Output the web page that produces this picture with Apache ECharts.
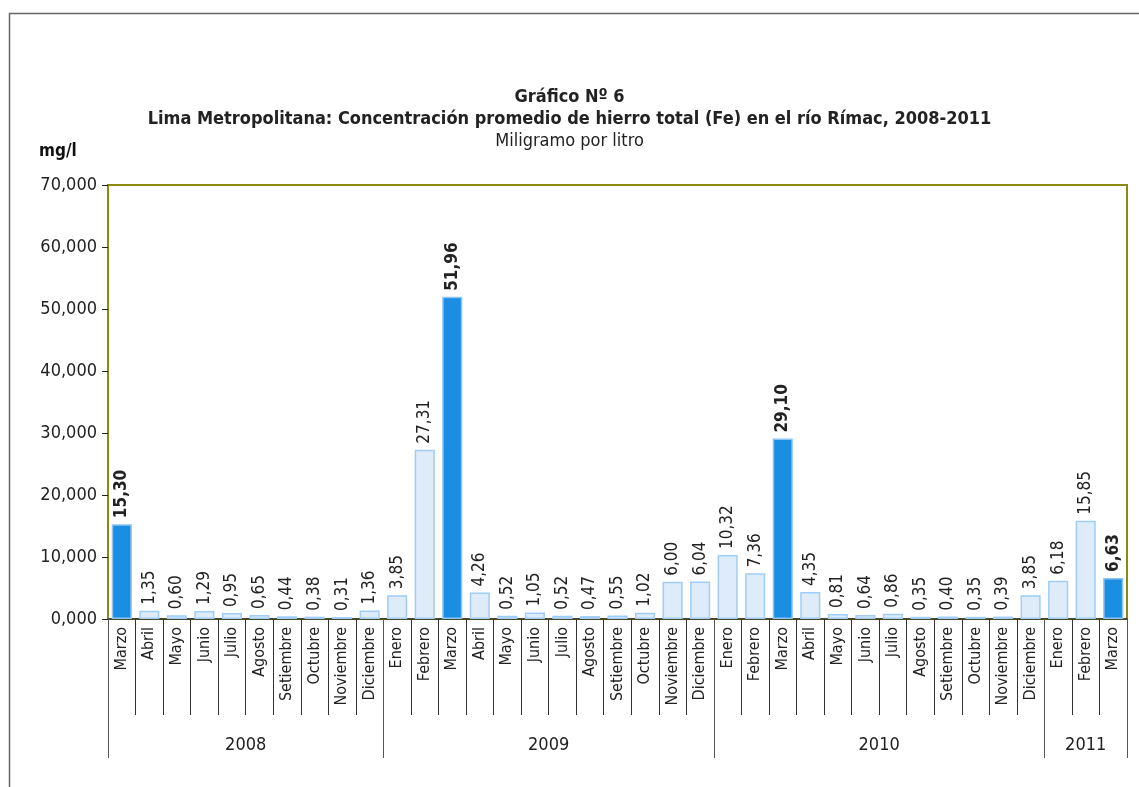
<!DOCTYPE html>
<html>
<head>
<meta charset="utf-8">
<script src="https://cdn.jsdelivr.net/npm/echarts@6/dist/echarts.min.js"></script>
<style>
html,body{margin:0;padding:0;background:#fff;}
#chart{width:1139px;height:787px;}
</style>
</head>
<body>
<div id="chart"></div>
<script>
var months = ["Marzo","Abril","Mayo","Junio","Julio","Agosto","Setiembre","Octubre","Noviembre","Diciembre",
  "Enero","Febrero","Marzo","Abril","Mayo","Junio","Julio","Agosto","Setiembre","Octubre","Noviembre","Diciembre",
  "Enero","Febrero","Marzo","Abril","Mayo","Junio","Julio","Agosto","Setiembre","Octubre","Noviembre","Diciembre",
  "Enero","Febrero","Marzo"];
var values = [15.30,1.35,0.60,1.29,0.95,0.65,0.44,0.38,0.31,1.36,
  3.85,27.31,51.96,4.26,0.52,1.05,0.52,0.47,0.55,1.02,6.00,6.04,
  10.32,7.36,29.10,4.35,0.81,0.64,0.86,0.35,0.40,0.35,0.39,3.85,
  6.18,15.85,6.63];
var years = ["2008","2009","2010","2011"];
var yearCounts = [10,12,12,3];
var yTicks = [0,10,20,30,40,50,60,70];

var FONT = "'Liberation Sans Narrow','DejaVu Sans Condensed','Roboto Condensed',Arial,sans-serif";

// year boundaries and centers (in category units)
var bounds = [0], centers = [];
yearCounts.forEach(function(c){ var s = bounds[bounds.length-1]; centers.push(s + c/2); bounds.push(s + c); });

function fmt(v, d){ return v.toFixed(d).replace('.', ','); }

var barData = values.map(function(v, i){
  var hi = months[i] === 'Marzo';
  return {
    value: v,
    itemStyle: hi ? {color:'#1a8ee2', borderColor:'#8cc4f2', borderWidth:1.5}
                  : {color:'#deebf8', borderColor:'#9fcdf8', borderWidth:1.5},
    label: hi ? {fontWeight:'bold'} : {}
  };
});

var chart = echarts.init(document.getElementById('chart'));
chart.setOption({
  backgroundColor:'#fff',
  animation:false,
  graphic:[{type:'rect', left:7, top:11, shape:{width:1300, height:900}, style:{fill:'none', stroke:'#666', lineWidth:1.5}, silent:true}],
  title:[
    {text:'Gráfico Nº 6', left:'center', top:83, textStyle:{fontFamily:FONT, fontSize:18, fontWeight:'bold', color:'#222'}},
    {text:'Lima Metropolitana: Concentración promedio de hierro total (Fe) en el río Rímac, 2008-2011', left:'center', top:105, textStyle:{fontFamily:FONT, fontSize:18, fontWeight:'bold', color:'#222'}},
    {text:'Miligramo por litro', left:'center', top:127, textStyle:{fontFamily:FONT, fontSize:18, fontWeight:'normal', color:'#222'}},
    {text:'mg/l', left:34, top:138, textStyle:{fontFamily:FONT, fontSize:17, fontWeight:'bold', color:'#111'}}
  ],
  grid:{left:108, right:12, top:185, bottom:168, show:true, borderColor:'#8a8a10', borderWidth:2, backgroundColor:'transparent'},
  xAxis:[
    {type:'category', data:months, position:'bottom',
     axisLine:{lineStyle:{color:'#333', width:1.5}},
     axisTick:{show:true, interval:0, length:96, lineStyle:{color:'#333'}},
     axisLabel:{interval:0, rotate:90, margin:8, fontFamily:FONT, fontSize:16, color:'#222'}},
    {type:'value', min:0, max:months.length, position:'bottom',
     axisLine:{show:false}, splitLine:{show:false},
     axisTick:{show:true, customValues:bounds, length:139, lineStyle:{color:'#555'}},
     axisLabel:{customValues:centers, margin:117, fontFamily:FONT, fontSize:18, color:'#222',
       formatter:function(v){ var i = centers.indexOf(v); return i >= 0 ? years[i] : ''; }}}
  ],
  yAxis:{type:'value', min:yTicks[0], max:yTicks[yTicks.length-1], interval:10,
    axisLine:{show:true, lineStyle:{color:'#8a8a10', width:2}},
    axisTick:{show:true, length:6, lineStyle:{color:'#222'}},
    splitLine:{show:false},
    axisLabel:{margin:11, fontFamily:FONT, fontSize:18, color:'#222', formatter:function(v){ return fmt(v,3); }}},
  series:[{
    type:'bar', data:barData, barCategoryGap:'27%',
    label:{show:true, position:'top', rotate:90, align:'left', verticalAlign:'middle', distance:6,
      fontFamily:FONT, fontSize:17, color:'#222', formatter:function(p){ return fmt(p.value,2); }}
  }]
});
</script>
</body>
</html>
